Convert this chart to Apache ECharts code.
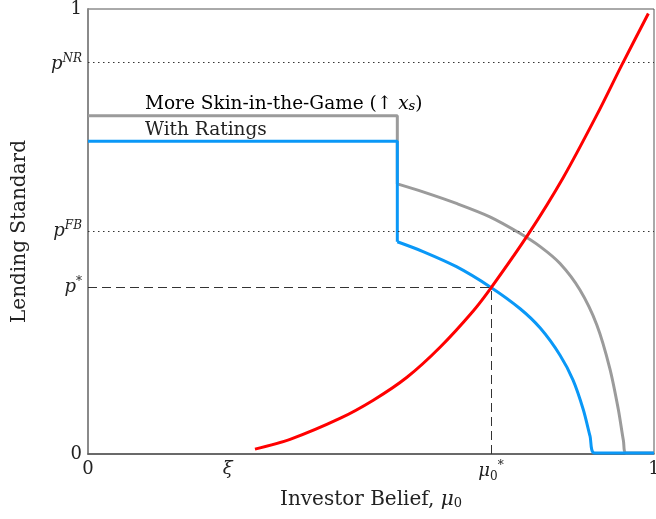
<!DOCTYPE html>
<html><head><meta charset="utf-8">
<script src="https://cdn.jsdelivr.net/npm/echarts@6/dist/echarts.min.js"></script>
<style>html,body{margin:0;padding:0;background:#fff}#c{width:656px;height:519px}</style>
</head><body><div id="c"></div>
<script>
// ---- data ----
const redX  = [0.295,0.357,0.445,0.504,0.563,0.622,0.681,0.713,0.778,0.840,0.899,0.943,0.990];
const redY  = [0.011,0.033,0.080,0.121,0.172,0.240,0.322,0.375,0.494,0.622,0.762,0.874,0.990];
// flat part + vertical drop
const grayStepX = [0, 0.5465, 0.5465];
const grayStepY = [0.760, 0.760, 0.607];
const blueStepX = [0, 0.5465, 0.5465];
const blueStepY = [0.703, 0.703, 0.477];
// curved part after the drop
const grayX = [0.5465,0.592,0.651,0.710,0.763,0.799,0.834,0.869,0.899,0.922,0.937,0.946,0.951,1];
const grayY = [0.607,0.589,0.563,0.533,0.496,0.466,0.428,0.369,0.290,0.192,0.100,0.030,0.002,0.002];
const blueX = [0.5465,0.592,0.651,0.710,0.763,0.799,0.834,0.857,0.875,0.887,0.895,1];
const blueY = [0.477,0.455,0.421,0.376,0.327,0.283,0.222,0.166,0.100,0.040,0.002,0.002];
const pNR = 0.876, pFB = 0.501, pStar = 0.375, muStar = 0.712, xi = 0.247;
const yTickVals = [0, pStar, pFB, pNR, 1];
const yTickLabels = ['{v|0}', '{i|p}{s|*}', '{i|p}{s|FB}', '{i|p}{s|NR}', '{v|1}'];
const xTickVals = [0, xi, muStar, 1];
const xTickLabels = ['{v|0}', '{i|ξ}', '{i|μ}{b|0}{s|*}', '{v|1}'];

const zip = (a, b) => a.map((v, i) => [v, b[i]]);
const F = 'DejaVu Serif';
const TC = '#222';
const rich = {
  v: {fontFamily: F, fontSize: 18, color: TC},
  i: {fontFamily: F, fontStyle: 'italic', fontSize: 18, color: TC},
  s: {fontFamily: F, fontStyle: 'italic', fontSize: 12, color: TC, verticalAlign: 'bottom', padding: [0,0,11,0]},
  b: {fontFamily: F, fontSize: 12, color: TC, verticalAlign: 'bottom', padding: [0,0,0,0]}
};
const GRAY = '#9b9b9b', BLUE = '#0a98f7', RED = '#ff0000';

const chart = echarts.init(document.getElementById('c'));
chart.setOption({
  animation: false,
  grid: {left: 88, right: 2, top: 9, bottom: 65, show: true, borderColor: '#555', borderWidth: 1,
         containLabel: false, outerBoundsMode: 'none'},
  xAxis: {
    type: 'value', min: 0, max: 1,
    name: '{n|Investor Belief, }{ni|μ}{nb|0}', nameLocation: 'middle', nameGap: 36,
    nameTextStyle: {rich: {
      n: {fontFamily: F, fontSize: 20, color: TC},
      ni: {fontFamily: F, fontStyle: 'italic', fontSize: 20, color: TC},
      nb: {fontFamily: F, fontSize: 13, color: TC, verticalAlign: 'bottom'}
    }},
    axisLine: {lineStyle: {color: '#555', width: 1.5}},
    axisTick: {show: false},
    splitLine: {show: false},
    axisLabel: {customValues: xTickVals, margin: 6,
      formatter: v => xTickLabels[xTickVals.indexOf(v)], rich: rich}
  },
  yAxis: {
    type: 'value', min: 0, max: 1,
    name: 'Lending Standard', nameLocation: 'middle', nameGap: 58,
    nameTextStyle: {fontFamily: F, fontSize: 20, color: TC},
    axisLine: {show: true, lineStyle: {color: '#8a8a8a', width: 2}},
    axisTick: {show: false},
    splitLine: {show: false},
    axisLabel: {customValues: yTickVals, margin: 6,
      formatter: v => yTickLabels[yTickVals.indexOf(v)], rich: rich}
  },
  series: [
    {type: 'line', data: zip(grayStepX, grayStepY), showSymbol: false,
     lineStyle: {color: GRAY, width: 3}, z: 3,
     markLine: {silent: true, symbol: 'none', label: {show: false},
       lineStyle: {color: '#333', type: [1.5, 3.5], width: 1},
       data: [{yAxis: pNR}, {yAxis: pFB}]}},
    {type: 'line', data: zip(grayX, grayY), showSymbol: false, smooth: 0.3,
     lineStyle: {color: GRAY, width: 3}, z: 3},
    {type: 'line', data: zip(blueStepX, blueStepY), showSymbol: false,
     lineStyle: {color: BLUE, width: 3}, z: 4,
     markLine: {silent: true, symbol: 'none', label: {show: false},
       lineStyle: {color: '#333', type: [9, 5], width: 1},
       data: [[{coord: [0, pStar]}, {coord: [muStar, pStar]}],
              [{coord: [muStar, 0]}, {coord: [muStar, pStar]}]]}},
    {type: 'line', data: zip(blueX, blueY), showSymbol: false, smooth: 0.3,
     lineStyle: {color: BLUE, width: 3}, z: 4},
    {type: 'line', data: zip(redX, redY), showSymbol: false, smooth: 0.3,
     lineStyle: {color: RED, width: 3}, z: 5}
  ],
  graphic: [
    {type: 'text', x: 145, y: 104, style: {
      text: '{a|More Skin-in-the-Game (↑ }{i|x}{b|s}{a|)}', verticalAlign: 'middle',
      rich: {a: {fontFamily: F, fontSize: 18.5, color: TC},
             i: {fontFamily: F, fontStyle: 'italic', fontSize: 18.5, color: TC},
             b: {fontFamily: F, fontStyle: 'italic', fontSize: 13, color: TC, verticalAlign: 'bottom'}}}},
    {type: 'text', x: 145, y: 130, style: {
      text: 'With Ratings', verticalAlign: 'middle', fontFamily: F, fontSize: 18.5, fill: TC}}
  ]
});
</script></body></html>
